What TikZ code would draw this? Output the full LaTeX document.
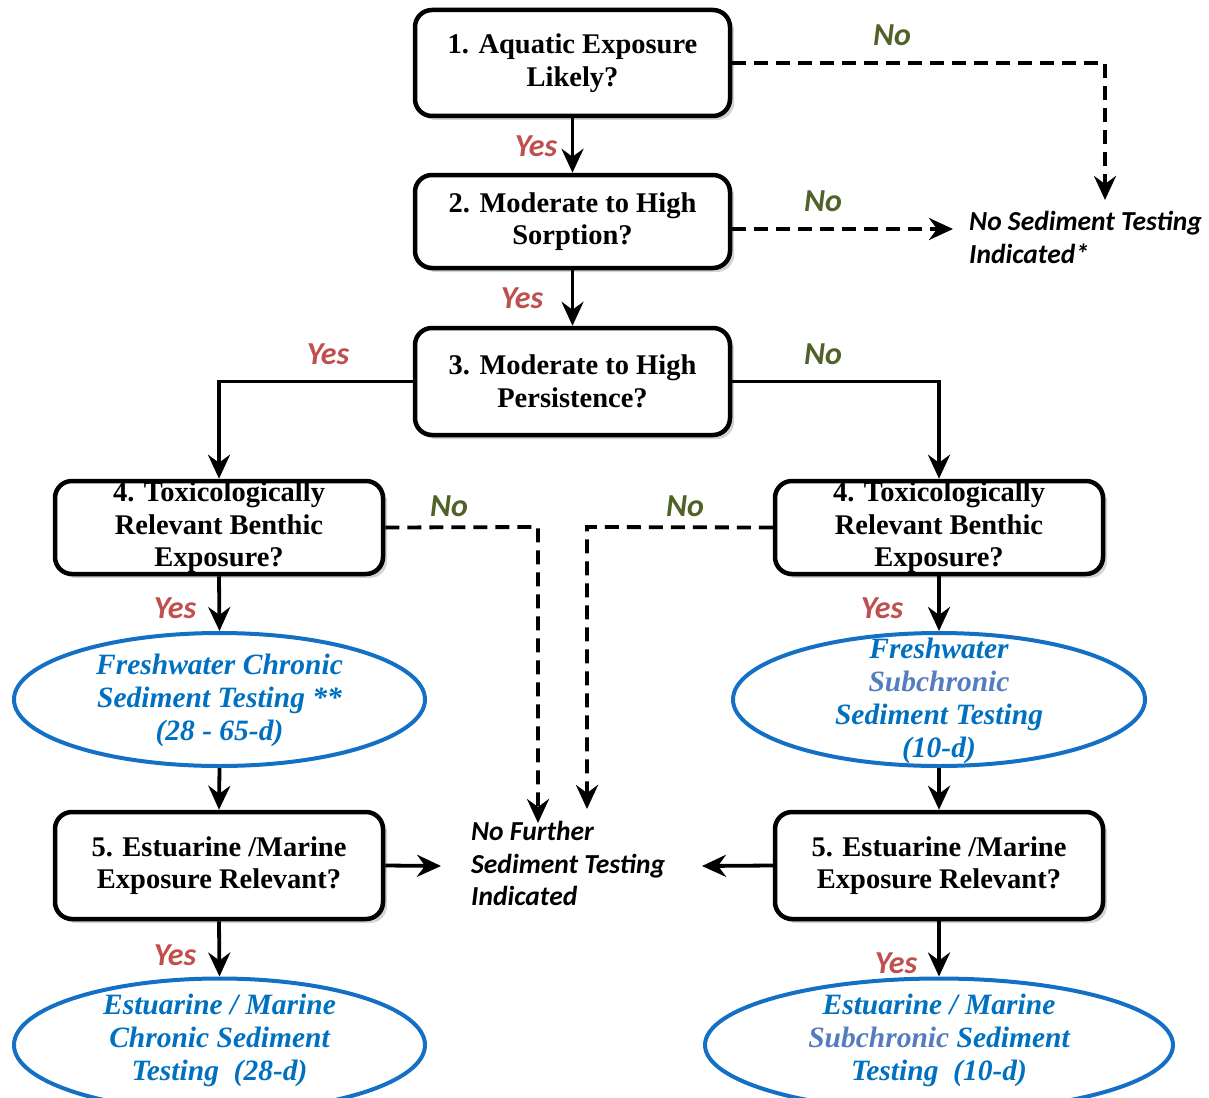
\documentclass[tikz,border=0pt]{standalone}
\usepackage{fontspec}
\setmainfont{Liberation Serif}
\newfontfamily\labfont{Carlito}
\usetikzlibrary{arrows.meta,shapes.geometric,shadows}
\definecolor{yescol}{RGB}{192,80,77}
\definecolor{nocol}{RGB}{79,98,40}
\definecolor{ellblue}{RGB}{20,112,196}
\definecolor{txtblue}{RGB}{0,112,192}
\definecolor{subblue}{RGB}{84,125,190}
\tikzset{
  qbox/.style={draw, line width=4.5pt, rounded corners=17pt, fill=white, align=center,
    inner sep=0pt, font=\bfseries\fontsize{28.5}{32.5}\selectfont,
    drop shadow={opacity=0.35, shadow xshift=4pt, shadow yshift=-4pt}},
  ell/.style={draw=ellblue, line width=4pt, ellipse, inner sep=0pt},
  etext/.style={align=center, text=txtblue, inner sep=0pt,
    font=\bfseries\itshape\fontsize{29.5}{33}\selectfont},
  conn/.style={line width=3.8pt, -{Stealth[length=24pt,width=22pt,inset=8pt]}},
  dconn/.style={conn, dash pattern=on 14pt off 8pt},
  yeslab/.style={text=yescol, font=\labfont\bfseries\itshape\fontsize{32}{34}\selectfont, inner sep=0pt},
  nolab/.style={text=nocol, font=\labfont\bfseries\itshape\fontsize{32}{34}\selectfont, inner sep=0pt},
  endtext/.style={align=left, inner sep=0pt, font=\labfont\bfseries\itshape\fontsize{27.5}{32.5}\selectfont}
}
\begin{document}
\begin{tikzpicture}[x=1pt,y=-1pt]
\useasboundingbox (0,0) rectangle (1209,1097);
% boxes
\node[qbox, minimum width=315pt, minimum height=106pt] (b1) at (572.5,63) {1. Aquatic Exposure\\Likely?};
\node[qbox, minimum width=315pt, minimum height=93pt] (b2) at (572.5,221.5) {2. Moderate to High\\Sorption?};
\node[qbox, minimum width=315pt, minimum height=107pt] (b3) at (572.5,381.5) {3. Moderate to High\\Persistence?};
\node[qbox, minimum width=328pt, minimum height=93pt] (b4l) at (219,527.5) {4. Toxicologically\\Relevant Benthic\\Exposure?};
\node[qbox, minimum width=328pt, minimum height=93pt] (b4r) at (939,527.5) {4. Toxicologically\\Relevant Benthic\\Exposure?};
\node[qbox, minimum width=328pt, minimum height=107pt] (b5l) at (219,865.5) {5. Estuarine /Marine\\Exposure Relevant?};
\node[qbox, minimum width=328pt, minimum height=107pt] (b5r) at (939,865.5) {5. Estuarine /Marine\\Exposure Relevant?};
% ellipses
\node[ell, minimum width=411pt, minimum height=133pt] (e1) at (219.5,699.5) {};
\node[etext] (e1t) at (219.5,700) {Freshwater Chronic\\Sediment Testing **\\(28 - 65-d)};
\node[ell, minimum width=412pt, minimum height=133pt] (e2) at (939,699.5) {};
\node[etext] (e2t) at (939,701) {Freshwater\\\textcolor{subblue}{Subchronic}\\Sediment Testing\\(10-d)};
\node[ell, minimum width=411pt, minimum height=133pt] (e3) at (219.5,1045) {};
\node[etext] (e3t) at (219.5,1040) {Estuarine / Marine\\Chronic Sediment\\Testing\ \ (28-d)};
\node[ell, minimum width=468pt, minimum height=133pt] (e4) at (939,1045) {};
\node[etext] (e4t) at (939,1040) {Estuarine / Marine\\\textcolor{subblue}{Subchronic} Sediment\\Testing\ \ (10-d)};
% end texts
\node[endtext, anchor=north west] (nst) at (969,211) {No Sediment Testing\\Indicated*};
\node[endtext, anchor=north west] (nft) at (471,821) {No Further\\Sediment Testing\\Indicated};
% coordinates
\coordinate (c1) at (1105,63);
\coordinate (c1e) at (1105,200);
\coordinate (c2e) at (953,229);
\coordinate (c4l) at (538,527);
\coordinate (c4le) at (538,823);
\coordinate (c4r) at (587,527);
\coordinate (c4re) at (587,809);
\coordinate (c5l) at (441,866);
\coordinate (c5r) at (702,866);
% connectors
\draw[dconn] (b1.east |- c1) -- (c1) -- (c1e);
\draw[conn] (b1.south) -- (b2.north);
\draw[dconn] (b2.east |- c2e) -- (c2e);
\draw[conn] (b2.south) -- (b3.north);
\draw[conn] (b3.west) -| (b4l.north);
\draw[conn] (b3.east) -| (b4r.north);
\draw[dconn] (b4l.east) -- (c4l) -- (c4le);
\draw[dconn] (b4r.west) -- (c4r) -- (c4re);
\draw[conn] (b4l.south) -- (e1.north);
\draw[conn] (b4r.south) -- (e2.north);
\draw[conn] (e1.south) -- (b5l.north);
\draw[conn] (e2.south) -- (b5r.north);
\draw[conn] (b5l.east) -- (c5l);
\draw[conn] (b5r.west) -- (c5r);
\draw[conn] (b5l.south) -- (e3.north);
\draw[conn] (b5r.south) -- (e4.north);
% labels
\node[nolab] (n1) at (892,35) {No};
\node[yeslab] (y1) at (536,146) {Yes};
\node[nolab] (n2) at (823,201) {No};
\node[yeslab] (y2) at (522,298) {Yes};
\node[yeslab] (y3) at (328,354) {Yes};
\node[nolab] (n3) at (823,354) {No};
\node[nolab] (n4l) at (449,506) {No};
\node[nolab] (n4r) at (685,506) {No};
\node[yeslab] (y4l) at (175,608) {Yes};
\node[yeslab] (y4r) at (882,608) {Yes};
\node[yeslab] (y5l) at (175,955) {Yes};
\node[yeslab] (y5r) at (896,963) {Yes};
\end{tikzpicture}
\end{document}
